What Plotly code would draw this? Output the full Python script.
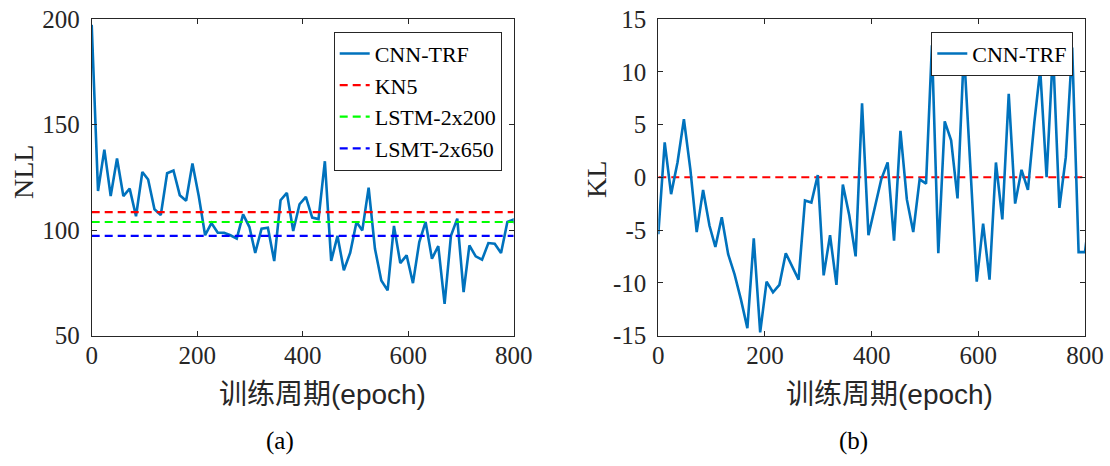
import plotly.graph_objects as go

# ---------------- data ----------------
epochs = [0, 12, 24, 36, 48, 60, 72, 84, 96, 107, 119, 131, 143, 155, 167, 179, 191,
          203, 215, 227, 239, 251, 263, 275, 287, 299, 310, 322, 334, 346, 358, 370,
          382, 394, 406, 418, 430, 442, 454, 466, 478, 490, 502, 513, 525, 537, 549,
          561, 573, 585, 597, 609, 621, 633, 645, 657, 669, 681, 693, 705, 716, 728,
          740, 752, 764, 776, 788, 800, 812]

nll_cnn_trf = [197.2, 118.5, 138.1, 116.1, 133.9, 116.1, 119.6, 106.5, 127.5, 123.9,
               109.8, 107.1, 126.9, 128.2, 116.5, 113.9, 131.5, 116.0, 97.5, 103.3,
               98.7, 98.7, 97.5, 95.9, 107.4, 101.4, 89.1, 100.6, 101.1, 85.3,
               114.1, 117.6, 99.5, 112.2, 115.7, 105.9, 105.2, 132.6, 85.3, 97.2,
               80.9, 89.2, 103.8, 99.8, 120.1, 91.1, 76.1, 71.4, 101.9, 84.3,
               88.0, 74.8, 94.3, 103.8, 86.4, 92.4, 65.0, 97.2, 105.4, 70.6,
               92.7, 87.5, 85.9, 93.8, 93.5, 89.1, 103.8, 105.0, 95.0]

baseline_names = ["KN5", "LSTM-2x200", "LSMT-2x650"]
baseline_nll = [108.5, 103.8, 97.2]
baseline_colors = ["#FF0000", "#00FF00", "#0000FF"]

kl_cnn_trf = [-5.4, 3.3, -1.6, 1.4, 5.5, 0.8, -5.2, -1.2, -4.6, -6.6,
              -3.8, -7.3, -9.2, -11.6, -14.3, -5.8, -14.7, -9.9, -10.9, -10.2,
              -7.2, -8.5, -9.7, -2.2, -2.4, 0.2, -9.3, -5.5, -10.2, -0.7,
              -3.6, -7.5, 7.0, -5.5, -3.0, -0.2, 1.4, -6.0, 4.4, -2.1,
              -5.2, -0.2, -0.6, 12.5, -7.2, 5.3, 3.5, -2.0, 12.0, 1.0,
              -9.9, -4.4, -9.7, 1.4, -4.0, 7.9, -2.5, 0.7, -1.2, 5.2,
              10.2, 0.0, 12.0, -2.9, 1.9, 12.3, -7.1, -7.1, -2.0]
kl_reference = 0.0

x_ticks = [0, 200, 400, 600, 800]
nll_ticks = [50, 100, 150, 200]
kl_ticks = [-15, -10, -5, 0, 5, 10, 15]
kl_tick_labels = ["-15", "-10", "-5", "0", "5", "10", "15"]

# ---------------- layout helpers ----------------
W, H = 1110, 466
def px(x):
    return x / W
def py(y):
    return 1 - y / H

AXC = "#262626"
SERIF = "Liberation Serif, Times New Roman, serif"
CJK = "Liberation Sans, Noto Sans CJK SC, sans-serif"
BLUE = "#0072BD"
DASH = "8px,5px"

fig = go.Figure()

# left panel
fig.add_trace(go.Scatter(x=epochs, y=nll_cnn_trf, mode="lines", name="CNN-TRF",
                         line=dict(color=BLUE, width=2.6), xaxis="x", yaxis="y",
                         legend="legend"))
for name, val, col in zip(baseline_names, baseline_nll, baseline_colors):
    fig.add_trace(go.Scatter(x=[x_ticks[0], x_ticks[-1]], y=[val, val], mode="lines",
                             name=name, line=dict(color=col, width=2.2, dash=DASH),
                             xaxis="x", yaxis="y", legend="legend"))

# right panel
fig.add_trace(go.Scatter(x=[x_ticks[0], x_ticks[-1]], y=[kl_reference, kl_reference],
                         mode="lines", showlegend=False,
                         line=dict(color="#FF0000", width=2.2, dash=DASH),
                         xaxis="x2", yaxis="y2"))
fig.add_trace(go.Scatter(x=epochs, y=kl_cnn_trf, mode="lines", name="CNN-TRF",
                         line=dict(color=BLUE, width=2.6), xaxis="x2", yaxis="y2",
                         legend="legend2"))

axis_common = dict(showline=True, linecolor=AXC, linewidth=1, mirror="ticks",
                   ticks="inside", ticklen=5, tickcolor=AXC, tickwidth=1,
                   showgrid=False, zeroline=False, automargin=False,
                   tickfont=dict(family=SERIF, size=25, color=AXC))

left_x = [px(91.7), px(513.7)]
right_x = [px(658.3), px(1085.0)]
ydom = [py(335.5), py(19)]

fig.update_layout(
    width=W, height=H,
    margin=dict(l=0, r=0, t=0, b=0, autoexpand=False),
    paper_bgcolor="white", plot_bgcolor="white",
    xaxis=dict(domain=left_x, range=[x_ticks[0], x_ticks[-1]], tickvals=x_ticks,
               anchor="y", ticklabelstandoff=-3, **axis_common),
    yaxis=dict(domain=ydom, range=[nll_ticks[0], nll_ticks[-1]], tickvals=nll_ticks,
               anchor="x", ticklabelstandoff=6, **axis_common),
    xaxis2=dict(domain=right_x, range=[x_ticks[0], x_ticks[-1]], tickvals=x_ticks,
                anchor="y2", ticklabelstandoff=-3, **axis_common),
    yaxis2=dict(domain=ydom, range=[kl_ticks[0], kl_ticks[-1]], tickvals=kl_ticks,
                ticktext=kl_tick_labels, anchor="x2", ticklabelstandoff=6, **axis_common),
    legend=dict(x=px(501.7), y=py(31.7), xanchor="right", yanchor="top",
                bgcolor="white", bordercolor=AXC, borderwidth=1,
                font=dict(family=SERIF, size=22, color="black"),
                tracegroupgap=0),
    legend2=dict(x=px(1073.3), y=py(31.7), xanchor="right", yanchor="top",
                 bgcolor="white", bordercolor=AXC, borderwidth=1,
                 font=dict(family=SERIF, size=22, color="black")),
    showlegend=True,
)

annotations = [
    dict(text="训练周期(epoch)", x=px(322.5), y=py(394), font=dict(family=CJK, size=28, color=AXC)),
    dict(text="训练周期(epoch)", x=px(889), y=py(394), font=dict(family=CJK, size=28, color=AXC)),
    dict(text="(a)", x=px(280), y=py(441), font=dict(family=SERIF, size=25, color="black")),
    dict(text="(b)", x=px(853), y=py(441), font=dict(family=SERIF, size=25, color="black")),
    dict(text="NLL", x=px(23), y=py(172), textangle=-90, font=dict(family=SERIF, size=28, color=AXC)),
    dict(text="KL", x=px(596), y=py(180), textangle=-90, font=dict(family=SERIF, size=28, color=AXC)),
]
for a in annotations:
    fig.add_annotation(xref="paper", yref="paper", xanchor="center", yanchor="middle",
                       showarrow=False, **a)

fig.write_html("out.html",
               config={"displayModeBar": False},
               post_script="document.body.style.margin='0px';"
                           "document.documentElement.style.overflow='hidden';")
